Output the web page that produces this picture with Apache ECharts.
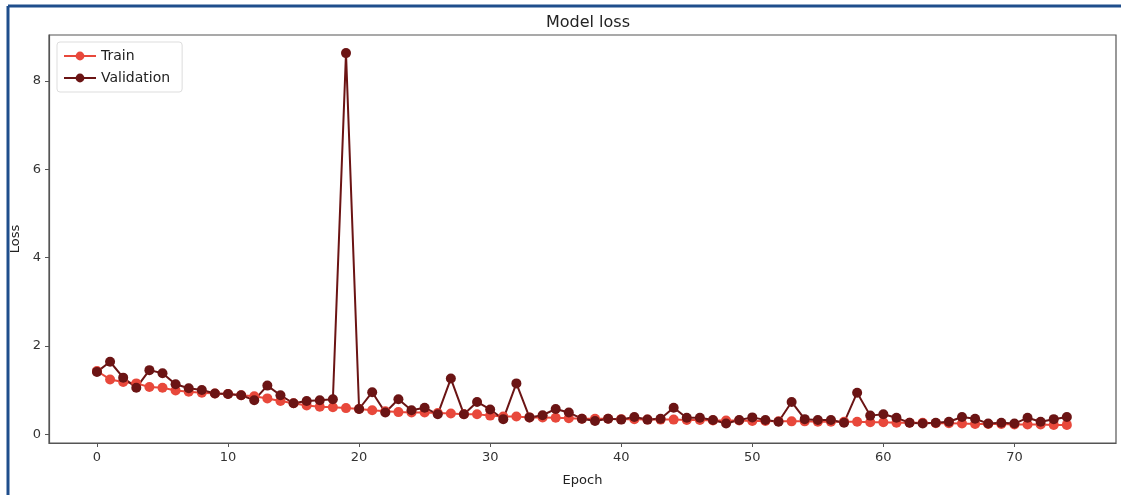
<!DOCTYPE html>
<html>
<head>
<meta charset="utf-8">
<script src="https://cdn.jsdelivr.net/npm/echarts@6/dist/echarts.min.js"></script>
<style>
html,body{margin:0;padding:0;background:#fff;}
#chart{width:1121px;height:495px;}
</style>
</head>
<body>
<div id="chart"></div>
<script>
const epochs = Array.from({length: 75}, (_, i) => i);
const trainLoss = [1.43,1.24,1.18,1.15,1.07,1.05,0.99,0.96,0.94,0.92,
  0.91,0.88,0.86,0.81,0.75,0.70,0.65,0.62,0.61,0.59,
  0.57,0.54,0.52,0.50,0.49,0.49,0.48,0.47,0.45,0.45,
  0.42,0.40,0.40,0.38,0.38,0.37,0.36,0.35,0.35,0.35,
  0.34,0.34,0.33,0.33,0.33,0.32,0.32,0.31,0.31,0.31,
  0.30,0.30,0.29,0.29,0.29,0.28,0.28,0.28,0.28,0.27,
  0.27,0.26,0.26,0.26,0.25,0.25,0.24,0.23,0.23,0.23,
  0.22,0.22,0.22,0.21,0.21];
const valLoss = [1.41,1.64,1.28,1.05,1.45,1.38,1.13,1.04,1.00,0.92,
  0.91,0.88,0.77,1.10,0.88,0.70,0.75,0.77,0.79,8.63,
  0.57,0.95,0.49,0.79,0.54,0.60,0.45,1.26,0.45,0.73,
  0.56,0.34,1.15,0.38,0.43,0.57,0.49,0.35,0.30,0.35,
  0.33,0.39,0.33,0.35,0.60,0.37,0.37,0.32,0.24,0.32,
  0.38,0.32,0.28,0.73,0.34,0.32,0.32,0.26,0.94,0.42,
  0.45,0.37,0.26,0.24,0.26,0.28,0.39,0.35,0.24,0.26,
  0.24,0.37,0.28,0.34,0.39];
const xTicks = [0,10,20,30,40,50,60,70];
const yTicks = [0,2,4,6,8];

const chart = echarts.init(document.getElementById('chart'), null, {renderer: 'canvas'});
const font = 'DejaVu Sans';
chart.setOption({
  animation: false,
  backgroundColor: '#fff',
  textStyle: {fontFamily: font},
  title: {
    text: 'Model loss', left: 583, top: 10, textAlign: 'center',
    textStyle: {fontFamily: font, fontSize: 16, fontWeight: 'normal', color: '#222'}
  },
  graphic: [
    {type: 'line', shape: {x1: 8, y1: 6, x2: 1121, y2: 6}, style: {stroke: '#1F4E8C', lineWidth: 3}},
    {type: 'line', shape: {x1: 8, y1: 6, x2: 8, y2: 495}, style: {stroke: '#1F4E8C', lineWidth: 3}}
  ],
  legend: {
    orient: 'vertical', left: 57, top: 42,
    data: ['Train', 'Validation'],
    backgroundColor: '#fff', borderColor: '#ddd', borderWidth: 1, borderRadius: 3,
    padding: [7, 12, 7, 6], itemGap: 8, itemWidth: 32, itemHeight: 11,
    textStyle: {fontFamily: font, fontSize: 14, color: '#222'}
  },
  grid: {left: 49, top: 35, right: 5, bottom: 52, show: true, borderColor: '#555', borderWidth: 1.2,
    containLabel: false, outerBoundsMode: 'none'},
  xAxis: {
    type: 'value', min: -3.66, max: 77.75,
    name: 'Epoch', nameLocation: 'middle', nameGap: 31,
    nameTextStyle: {fontFamily: font, fontSize: 13, color: '#222'},
    splitLine: {show: false},
    axisLine: {show: true, onZero: false, lineStyle: {color: '#555', width: 1.2}},
    axisTick: {show: true, inside: false, length: 4, customValues: xTicks, lineStyle: {color: '#555'}},
    axisLabel: {customValues: xTicks, fontFamily: font, fontSize: 13, color: '#333', margin: 8}
  },
  yAxis: {
    type: 'value', min: -0.2, max: 9.04,
    name: 'Loss', nameLocation: 'middle', nameGap: 27, nameRotate: 90,
    nameTextStyle: {fontFamily: font, fontSize: 13, color: '#222'},
    splitLine: {show: false},
    axisLine: {show: true, onZero: false, lineStyle: {color: '#555', width: 1.2}},
    axisTick: {show: true, inside: false, length: 4, customValues: yTicks, lineStyle: {color: '#555'}},
    axisLabel: {customValues: yTicks, fontFamily: font, fontSize: 13, color: '#333', margin: 8}
  },
  series: [
    {
      name: 'Train', type: 'line',
      data: epochs.map((e, i) => [e, trainLoss[i]]),
      symbol: 'circle', symbolSize: 10, showAllSymbol: true,
      lineStyle: {color: '#E8483B', width: 2},
      itemStyle: {color: '#E8483B'}
    },
    {
      name: 'Validation', type: 'line',
      data: epochs.map((e, i) => [e, valLoss[i]]),
      symbol: 'circle', symbolSize: 10, showAllSymbol: true,
      lineStyle: {color: '#6B1414', width: 2},
      itemStyle: {color: '#6B1414'}
    }
  ]
});
</script>
</body>
</html>
